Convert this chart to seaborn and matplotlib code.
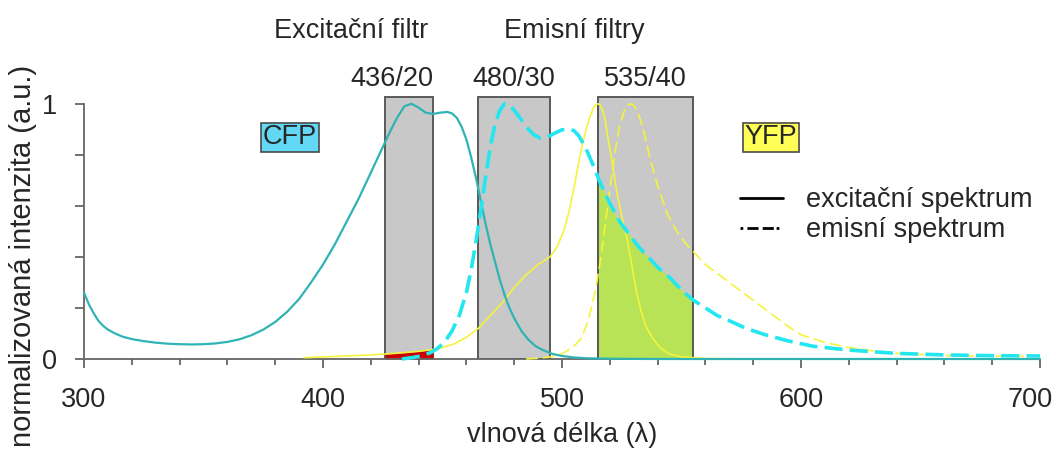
import numpy as np
import matplotlib
matplotlib.use("Agg")
import matplotlib.pyplot as plt
import matplotlib.ticker as mtick
import matplotlib.transforms as mtrans
from matplotlib.lines import Line2D
import seaborn as sns

# spectra (wavelength nm, normalised intensity)
cfp_ex_nm = [300, 302, 304, 306, 308, 310, 313, 316, 320, 325, 330, 335, 340, 345, 350, 355,
             360, 365, 370, 375, 380, 385, 390, 395, 400, 405, 410, 415, 420, 424, 428, 431,
             434, 437, 440, 443, 446, 449, 452, 454, 456, 458, 460, 462, 464, 466, 468, 470,
             472, 474, 476, 478, 480, 483, 486, 489, 492, 496, 500, 505, 510, 520, 540, 700]
cfp_ex = [0.26, 0.215, 0.18, 0.15, 0.13, 0.115, 0.10, 0.088, 0.078, 0.07, 0.064, 0.06, 0.058,
          0.057, 0.058, 0.061, 0.067, 0.077, 0.093, 0.115, 0.145, 0.185, 0.235, 0.30, 0.37,
          0.45, 0.54, 0.63, 0.73, 0.81, 0.89, 0.945, 0.99, 1.0, 0.985, 0.965, 0.96, 0.965,
          0.968, 0.962, 0.945, 0.91, 0.86, 0.79, 0.71, 0.62, 0.53, 0.45, 0.38, 0.31, 0.25,
          0.20, 0.16, 0.11, 0.075, 0.05, 0.035, 0.02, 0.012, 0.006, 0.003, 0.001, 0.0, 0.0]

cfp_em_nm = [433, 437, 441, 445, 448, 451, 454, 457, 460, 462, 464, 466, 468, 470, 472, 474,
             476, 478, 480, 482, 485, 488, 491, 494, 497, 500, 503, 505, 507, 510, 513, 516,
             520, 524, 528, 532, 536, 540, 545, 550, 555, 560, 565, 570, 577, 585, 595, 605,
             620, 640, 660, 680, 700]
cfp_em = [0.0, 0.005, 0.012, 0.025, 0.042, 0.068, 0.11, 0.17, 0.26, 0.35, 0.46, 0.58, 0.71,
          0.83, 0.92, 0.975, 1.0, 0.995, 0.975, 0.95, 0.91, 0.88, 0.865, 0.87, 0.885, 0.898,
          0.90, 0.895, 0.875, 0.825, 0.76, 0.69, 0.61, 0.54, 0.49, 0.44, 0.40, 0.36, 0.32,
          0.27, 0.23, 0.20, 0.17, 0.15, 0.12, 0.095, 0.07, 0.05, 0.035, 0.022, 0.016, 0.013,
          0.012]

yfp_ex_nm = [392, 400, 410, 420, 430, 440, 446, 450, 455, 460, 465, 470, 475, 480, 485, 490,
             495, 498, 501, 503, 505, 507, 509, 511, 513, 514, 515, 516, 517, 518, 519, 521,
             523, 525, 527, 529, 531, 533, 535, 538, 541, 545, 550, 560, 580, 700]
yfp_ex = [0.005, 0.008, 0.012, 0.016, 0.022, 0.03, 0.037, 0.045, 0.06, 0.085, 0.12, 0.17, 0.22,
          0.28, 0.33, 0.37, 0.40, 0.44, 0.51, 0.58, 0.67, 0.77, 0.86, 0.93, 0.98, 0.995, 1.0,
          0.995, 0.975, 0.94, 0.88, 0.77, 0.65, 0.56, 0.48, 0.38, 0.27, 0.19, 0.13, 0.08,
          0.045, 0.02, 0.008, 0.002, 0.0, 0.0]

yfp_em_nm = [485, 490, 495, 500, 505, 508, 511, 514, 516, 518, 520, 522, 524, 526, 527.5,
             529, 530.5, 532, 534, 537, 540, 544, 548, 552, 556, 560, 565, 570, 575, 580, 585,
             590, 595, 600, 605, 610, 620, 630, 640, 660, 680, 700]
yfp_em = [0.0, 0.003, 0.008, 0.02, 0.05, 0.08, 0.15, 0.27, 0.38, 0.52, 0.66, 0.80, 0.91, 0.97,
          0.995, 1.0, 0.99, 0.96, 0.90, 0.78, 0.68, 0.57, 0.50, 0.45, 0.41, 0.37, 0.335, 0.30,
          0.265, 0.23, 0.195, 0.16, 0.125, 0.095, 0.08, 0.065, 0.045, 0.032, 0.022, 0.014,
          0.011, 0.01]

# filters: centre / bandwidth
filter_centers = [436, 480, 535]
filter_widths = [20, 30, 40]

sns.set_style("ticks")
plt.rcParams['font.family'] = ['Liberation Sans', 'DejaVu Sans']
FS = 19.5

fig = plt.figure(figsize=(10.56, 4.5), dpi=100)
ax = fig.add_axes([84 / 1056, 91 / 450, 956 / 1056, 268 / 450])

# filter boxes
for i, (c, w) in enumerate(zip(filter_centers, filter_widths)):
    ax.bar(c, 1.027, width=w, color='#c8c8c8', edgecolor='#5a5a5a', linewidth=1.4, zorder=1)
    if i == 0:
        ax.text(c + w / 2, 1.071, f'{c}/{w}', ha='right', va='baseline', fontsize=FS, clip_on=False)
    else:
        ax.text(c, 1.071, f'{c}/{w}', ha='center', va='baseline', fontsize=FS, clip_on=False)

ax.text(411.7, 1.259, 'Excitační filtr', ha='center', va='baseline', fontsize=FS, clip_on=False)
ax.text(505, 1.259, 'Emisní filtry', ha='center', va='baseline', fontsize=FS, clip_on=False)

# crosstalk fills
ex_lo, ex_hi = filter_centers[0] - filter_widths[0] / 2, filter_centers[0] + filter_widths[0] / 2
xr = np.array([ex_lo] + [x for x in yfp_ex_nm if ex_lo < x < ex_hi] + [ex_hi])
ax.fill_between(xr, 0, np.interp(xr, yfp_ex_nm, yfp_ex), color='#cc0000', zorder=2, lw=0)

em_lo, em_hi = filter_centers[2] - filter_widths[2] / 2, filter_centers[2] + filter_widths[2] / 2
xg = np.array([em_lo] + [x for x in cfp_em_nm if em_lo < x < em_hi] + [em_hi])
ax.fill_between(xg, 0, np.interp(xg, cfp_em_nm, cfp_em), color='#b8e356', zorder=2, lw=0)
ax.vlines([em_lo, em_hi], 0, 1.027, color='#5a5a5a', lw=1.4, zorder=2)

# spectra
curves = [
    (yfp_ex_nm, yfp_ex, '#f4f43c', 1.2, '-'),
    (yfp_em_nm, yfp_em, '#f4f43c', 1.2, (0, (7, 3))),
    (cfp_ex_nm, cfp_ex, '#2fb3b5', 1.6, '-'),
    (cfp_em_nm, cfp_em, '#22e6f0', 2.6, (0, (5, 2))),
]
for x, y, col, lw, ls in curves:
    sns.lineplot(x=x, y=y, ax=ax, color=col, linewidth=lw, linestyle=ls, legend=False,
                 zorder=3, clip_on=False, solid_joinstyle='round', dash_joinstyle='round')

# protein labels
ax.text(386.2, 0.869, 'CFP', ha='center', va='center', fontsize=FS, zorder=5,
        bbox=dict(boxstyle='square,pad=0.06', fc='#62d8f4', ec='#4a4a4a', lw=1.2))
ax.text(587.4, 0.869, 'YFP', ha='center', va='center', fontsize=FS, zorder=5,
        bbox=dict(boxstyle='square,pad=0.06', fc='#ffff55', ec='#4a4a4a', lw=1.2))

handles = [
    Line2D([], [], color='black', lw=2),
    Line2D([], [], color='black', lw=2, ls=(0, (1, 1.5, 4, 1.5, 4, 1))),
]
ax.legend(handles, ['excitační spektrum', 'emisní spektrum'], loc='center left',
          bbox_to_anchor=(0.686, 0.537), frameon=False, fontsize=FS, handlelength=1.6,
          handletextpad=0.85, labelspacing=0.15, borderaxespad=0, borderpad=0)

# axes styling
ax.set_xlim(300, 700)
ax.set_ylim(0, 1.05)
ax.set_xticks([300, 400, 500, 600, 700])
ax.xaxis.set_minor_locator(mtick.MultipleLocator(20))
ax.set_yticks([0, 0.2, 0.4, 0.6, 0.8, 1.0])
ax.set_yticklabels(['0', '', '', '', '', '1'])
ax.tick_params(axis='both', which='major', labelsize=FS, color='#666666', width=1.3, length=6.5)
ax.tick_params(axis='x', which='minor', color='#666666', width=1.3, length=4.5)
ax.tick_params(axis='y', pad=13)
ax.tick_params(axis='x', pad=14)
for loc in ['top', 'right']:
    ax.spines[loc].set_visible(False)
for loc in ['left', 'bottom']:
    ax.spines[loc].set_color('#666666')
    ax.spines[loc].set_linewidth(1.3)
ax.spines['left'].set_bounds(0, 1)

# last x tick label sits a little inward so it stays on the canvas
fig.canvas.draw()
last = ax.get_xticklabels()[-1]
last.set_transform(last.get_transform() + mtrans.ScaledTranslation(-10 / 100, 0, fig.dpi_scale_trans))

ax.set_xlabel('vlnová délka (λ)', fontsize=FS)
ax.set_ylabel('normalizovaná intenzita (a.u.)', fontsize=21)
ax.xaxis.set_label_coords(0.5, -0.333)
ax.xaxis.label.set_va('bottom')
ax.yaxis.set_label_coords(-0.049, 0.385)
ax.grid(False)

fig.savefig('out.png', dpi=100)
